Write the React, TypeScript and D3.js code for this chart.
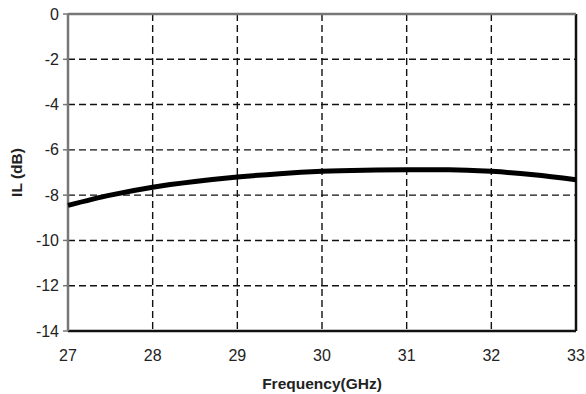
import React from 'react'
import * as d3 from 'd3'

// IL vs frequency
const freqGHz = [27, 27.5, 28, 28.5, 29, 29.5, 30, 30.5, 31, 31.5, 32, 32.5, 33]
const ilDb = [-8.45, -8.0, -7.65, -7.4, -7.2, -7.05, -6.95, -6.9, -6.88, -6.88, -6.95, -7.1, -7.32]
const xTicks = [27, 28, 29, 30, 31, 32, 33]
const yTicks = [0, -2, -4, -6, -8, -10, -12, -14]

const W = 586
const H = 394
const margin = { top: 14, right: 10, bottom: 63, left: 68 }

export default function App () {
  const x = d3.scaleLinear().domain([27, 33]).range([margin.left, W - margin.right])
  const y = d3.scaleLinear().domain([-14, 0]).range([H - margin.bottom, margin.top])

  const line = d3.line<number>()
    .x((d, i) => x(freqGHz[i]))
    .y(d => y(d))
    .curve(d3.curveMonotoneX)

  const font = 'Arial, "Liberation Sans", sans-serif'
  const x0 = x(27), x1 = x(33), y0 = y(-14), y1 = y(0)

  return (
    <svg width={W} height={H} style={{ position: 'absolute', left: 0, top: 0, background: '#fff' }}>
      {/* grid */}
      <g stroke='#111' strokeWidth={1.4} strokeDasharray='7,4'>
        {yTicks.filter(t => t !== 0 && t !== -14).map(t => (
          <line key={'gy' + t} x1={x0} x2={x1} y1={y(t)} y2={y(t)} />
        ))}
        {xTicks.filter(t => t !== 27 && t !== 33).map(t => (
          <line key={'gx' + t} x1={x(t)} x2={x(t)} y1={y1} y2={y0} />
        ))}
      </g>
      {/* frame */}
      <line x1={x0} x2={x1} y1={y0} y2={y0} stroke='#111' strokeWidth={2.5} />
      <line x1={x1} x2={x1} y1={y1} y2={y0} stroke='#111' strokeWidth={2.5} />
      <line x1={x0} x2={x1} y1={y1} y2={y1} stroke='#777' strokeWidth={2.5} />
      <line x1={x0} x2={x0} y1={y1} y2={y0} stroke='#777' strokeWidth={2.5} />
      {/* y ticks */}
      {yTicks.map(t => (
        <g key={'ty' + t}>
          <line x1={x0 - 5} x2={x0} y1={y(t)} y2={y(t)} stroke='#777' strokeWidth={1.5} />
          <text x={x0 - 9} y={y(t)} dy='0.35em' textAnchor='end' fontFamily={font} fontSize={16} fill='#222'>{t}</text>
        </g>
      ))}
      {xTicks.map(t => (
        <text key={'tx' + t} x={x(t)} y={y0 + 30} textAnchor='middle' fontFamily={font} fontSize={16} fill='#222'>{t}</text>
      ))}
      {/* curve */}
      <path d={line(ilDb) || ''} fill='none' stroke='#000' strokeWidth={5} strokeLinecap='butt' />
      {/* axis labels */}
      <text x={322} y={389} textAnchor='middle' fontFamily={font} fontSize={15.5} fontWeight='bold' fill='#222'>Frequency(GHz)</text>
      <text transform={`translate(22,${(y0 + y1) / 2}) rotate(-90)`} textAnchor='middle' fontFamily={font} fontSize={15.5} fontWeight='bold' fill='#222'>IL (dB)</text>
    </svg>
  )
}
